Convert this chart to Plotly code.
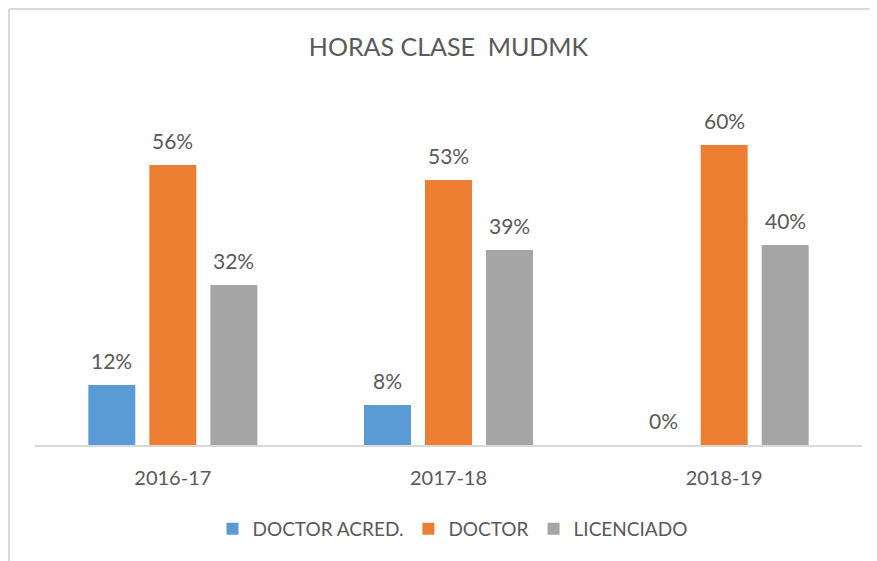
import plotly.graph_objects as go

# chart data
years = ["2016-17", "2017-18", "2018-19"]
doctor_acred = [0.12, 0.08, 0.00]
doctor = [0.56, 0.53, 0.60]
licenciado = [0.32, 0.39, 0.40]

series_names = ["DOCTOR ACRED.", "DOCTOR", "LICENCIADO"]
series_colors = ["#5B9BD5", "#ED7D31", "#A5A5A5"]

FONT = "Lato"
GREY_TEXT = "#595959"

# the page body has an 8px margin, so the figure is a bit smaller than the window
W, H = 869, 553
ML, MR, MT, MB = 27, 15, 87, 116
PW = W - ML - MR
PH = H - MT - MB
BAR_STEP = 61  # px between bar centres inside a group

fig = go.Figure()

all_series = [doctor_acred, doctor, licenciado]
for name, vals, col in zip(series_names, all_series, series_colors):
    fig.add_trace(go.Bar(
        x=years,
        y=vals,
        name=name,
        marker=dict(color=col, line=dict(width=0)),
        hoverinfo="x+y+name",
    ))

# value labels sit a little higher above the bars than plotly's "outside" text
for i, vals in enumerate(all_series):
    for yr, v in zip(years, vals):
        fig.add_annotation(
            x=yr, y=v, xref="x", yref="y",
            text=f"{v:.0%}",
            showarrow=False,
            xshift=(i - 1) * BAR_STEP,
            yshift=24.5,
            yanchor="middle",
            font=dict(family=FONT, size=21, color=GREY_TEXT),
        )

fig.update_layout(
    width=W,
    height=H,
    paper_bgcolor="white",
    plot_bgcolor="white",
    margin=dict(l=ML, r=MR, t=MT, b=MB),
    barmode="group",
    bargap=0.336,
    bargroupgap=0.23,
    title=dict(
        text="HORAS CLASE\u00a0\u00a0MUDMK",
        xref="paper",
        x=0.5,
        xanchor="center",
        y=1 - 39 / H,
        yanchor="middle",
        font=dict(family=FONT, size=25, color=GREY_TEXT, weight=400),
    ),
    xaxis=dict(
        showline=True,
        linecolor="#D9D9D9",
        linewidth=2,
        ticks="",
        ticklabelstandoff=14,
        tickfont=dict(family=FONT, size=20, color=GREY_TEXT),
        showgrid=False,
    ),
    yaxis=dict(
        range=[0, 0.7],
        visible=False,
        showgrid=False,
        zeroline=False,
    ),
    legend=dict(
        orientation="h",
        x=(444.5 - ML) / PW,
        xanchor="center",
        y=(437 - 521) / PH,
        yanchor="middle",
        font=dict(family=FONT, size=19, color=GREY_TEXT),
        itemwidth=30,
        traceorder="normal",
    ),
    showlegend=True,
)

# chart frame (only left and top edges visible in the crop)
fx = (1 - ML) / PW
fy = 1 + (MT - 1) / PH
fig.add_shape(type="line", xref="paper", yref="paper",
              x0=fx, x1=fx, y0=-0.6, y1=fy,
              line=dict(color="#D9D9D9", width=2))
fig.add_shape(type="line", xref="paper", yref="paper",
              x0=fx, x1=1.1, y0=fy, y1=fy,
              line=dict(color="#D9D9D9", width=2))

fig.write_html("out.html")
